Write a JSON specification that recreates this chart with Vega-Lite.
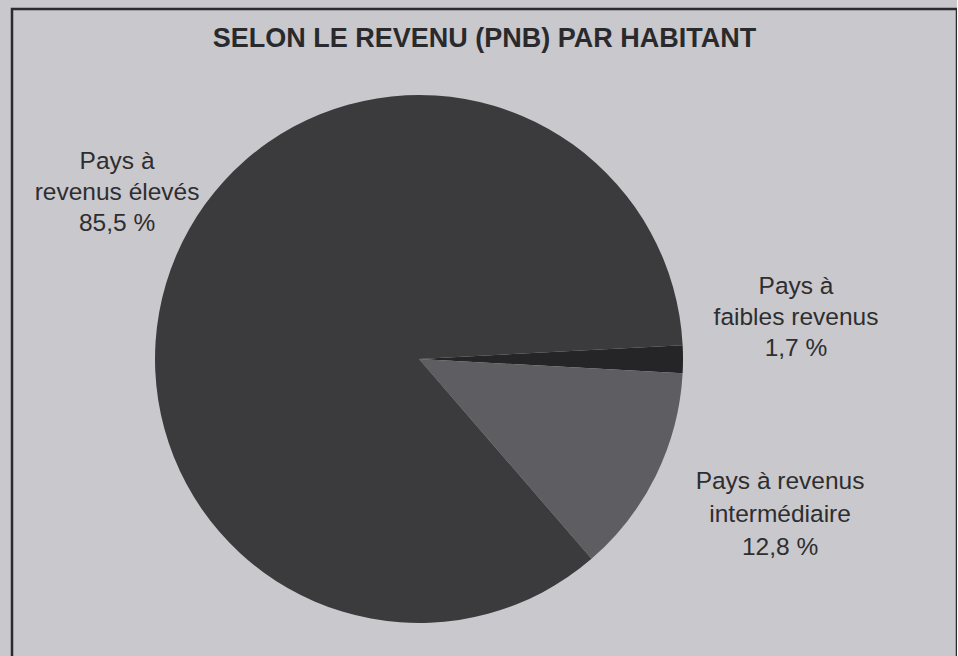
{
  "$schema": "https://vega.github.io/schema/vega-lite/v6.json",
  "width": 945,
  "height": 660,
  "autosize": {"type": "none"},
  "padding": {"left": 12, "top": 9, "right": 0, "bottom": 0},
  "background": "#c9c8cc",
  "view": {"stroke": "#2b2b2d", "strokeWidth": 2.5, "fill": "#c9c8cc"},
  "title": {
    "text": "SELON LE REVENU (PNB) PAR HABITANT",
    "anchor": "middle",
    "orient": "top",
    "offset": -65,
    "baseline": "alphabetic",
    "font": "Liberation Sans",
    "fontSize": 27,
    "fontWeight": "bold",
    "color": "#2a2a2c"
  },
  "data": {
    "values": [
      {"categorie": "Pays à faibles revenus", "part": 1.7, "rang": 1, "etiquette": "Pays à\nfaibles revenus\n1,7 %"},
      {"categorie": "Pays à revenus intermédiaire", "part": 12.8, "rang": 2, "etiquette": "Pays à revenus\nintermédiaire\n12,8 %"},
      {"categorie": "Pays à revenus élevés", "part": 85.5, "rang": 3, "etiquette": "Pays à\nrevenus élevés\n85,5 %"}
    ]
  },
  "encoding": {
    "theta": {"field": "part", "type": "quantitative", "stack": true, "scale": {"range": [1.5184, 7.8016]}},
    "order": {"field": "rang", "type": "quantitative"}
  },
  "layer": [
    {
      "mark": {"type": "arc", "outerRadius": 264, "x": {"expr": "width*0.4307"}, "y": {"expr": "height*0.5303"}},
      "encoding": {
        "color": {
          "field": "categorie",
          "type": "nominal",
          "legend": null,
          "scale": {
            "domain": ["Pays à faibles revenus", "Pays à revenus intermédiaire", "Pays à revenus élevés"],
            "range": ["#252527", "#5e5d61", "#3b3a3d"]
          }
        }
      }
    },
    {
      "mark": {"type": "text", "radius": 350, "x": {"expr": "width*0.4307"}, "y": {"expr": "height*0.5303"}, "dx": 20, "dy": -60, "lineBreak": "\n", "lineHeight": 31, "font": "Liberation Sans", "fontSize": 24.5, "color": "#2e2e30", "align": "center", "baseline": "middle"},
      "encoding": {"text": {"condition": {"test": "datum.rang == 3", "field": "etiquette", "type": "nominal"}, "value": ""}}
    },
    {
      "mark": {"type": "text", "radius": 380, "x": {"expr": "width*0.4307"}, "y": {"expr": "height*0.5303"}, "dx": -3, "dy": -72, "lineBreak": "\n", "lineHeight": 31, "font": "Liberation Sans", "fontSize": 24.5, "color": "#2e2e30", "align": "center", "baseline": "middle"},
      "encoding": {"text": {"condition": {"test": "datum.rang == 1", "field": "etiquette", "type": "nominal"}, "value": ""}}
    },
    {
      "mark": {"type": "text", "radius": 390, "x": {"expr": "width*0.4307"}, "y": {"expr": "height*0.5303"}, "dx": 11, "dy": -49, "lineBreak": "\n", "lineHeight": 33, "font": "Liberation Sans", "fontSize": 24.5, "color": "#2e2e30", "align": "center", "baseline": "middle"},
      "encoding": {"text": {"condition": {"test": "datum.rang == 2", "field": "etiquette", "type": "nominal"}, "value": ""}}
    }
  ]
}
